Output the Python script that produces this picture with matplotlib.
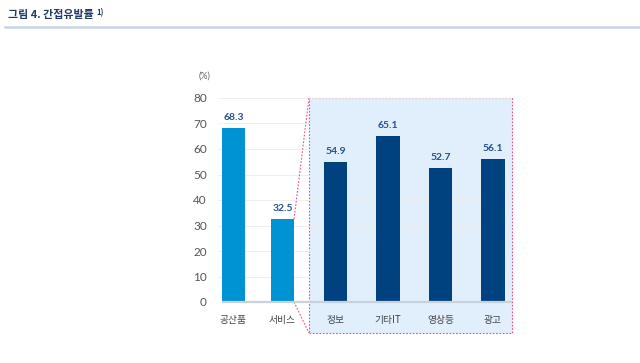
import matplotlib.pyplot as plt
import matplotlib.patches as mpatches
from matplotlib.lines import Line2D

plt.rcParams['font.family'] = ['Lato', 'Noto Sans CJK KR', 'DejaVu Sans']

# ── data ────────────────────────────────────────────────────────────────────
categories = ['공산품', '서비스', '정보', '기타IT', '영상등', '광고']
values     = [68.3, 32.5, 54.9, 65.1, 52.7, 56.1]
yticks     = [0, 10, 20, 30, 40, 50, 60, 70, 80]

# ── layout ──────────────────────────────────────────────────────────────────
pos    = [0, 0.933, 1.943, 2.943, 3.943, 4.943]
colors = ['#0093d3', '#0093d3', '#00427f', '#00427f', '#00427f', '#00427f']
bar_w  = 0.44
kor    = ['Noto Sans CJK KR', 'DejaVu Sans']

fig = plt.figure(figsize=(6.4, 3.63), dpi=100)
fig.patch.set_facecolor('white')

# title + rule
title = fig.text(8/640, 1 - 15/363, '그림 4. 간접유발률', family=kor,
                 fontsize=7.9, fontweight='bold', color='#1f3a68',
                 ha='left', va='center')
fig.canvas.draw()
bb = title.get_window_extent()
fig.text((bb.x1 + 3) / 640, 1 - 12.5/363, '1)', family=kor, fontsize=5.5,
         fontweight='bold', color='#1f3a68', ha='left', va='center')
fig.add_artist(Line2D([5/640, 1], [1 - 27/363, 1 - 27/363],
                      transform=fig.transFigure, color='#c6d4e6', lw=1.8))

ax = fig.add_axes([218/640, 61/363, 294/640, 204/363])
ax.set_xlim(-0.295, 5.305)
ax.set_ylim(0, 80)

# highlighted box (extends below the axis)
x0 = (309 - 233.5) / 52.5
x1 = (512 - 233.5) / 52.5
y0 = -31 / 2.55
ax.add_patch(mpatches.Rectangle((x0, y0), x1 - x0, 80 - y0,
                                facecolor='#e1effc', edgecolor='#e8508a',
                                lw=0.8, ls=(0, (1.5, 1.5)), clip_on=False,
                                zorder=0))

for y in yticks[1:]:
    ax.axhline(y, color='#ececec', lw=0.6, zorder=0.5)

ax.bar(pos, values, width=bar_w, color=colors, zorder=2)
ax.plot([-bar_w/2, x1], [0, 0], color='#c9d1da', lw=1.6, zorder=3,
        clip_on=False, solid_capstyle='butt')

for p, v in zip(pos, values):
    ax.text(p, v + 4, f'{v:.1f}', ha='center', va='center', fontsize=7.5,
            fontweight='bold', color='#23528f')

# connector lines from 서비스 bar to box
sx = pos[1] + bar_w/2
ax.plot([sx, x0], [values[1], 80], color='#e8508a', lw=0.8,
        ls=(0, (1.5, 1.5)), clip_on=False, zorder=1)
ax.plot([sx, x0], [0, y0], color='#e8508a', lw=0.8,
        ls=(0, (1.5, 1.5)), clip_on=False, zorder=1)

for p, c in zip(pos, categories):
    ax.text(p, -7, c, ha='center', va='center', fontsize=7,
            family=kor, color='#444444')

ax.set_xticks([])
ax.set_yticks(yticks)
ax.tick_params(axis='y', length=0, pad=8, labelsize=8.5, labelcolor='#555555')
for spine in ax.spines.values():
    spine.set_visible(False)
ax.patch.set_alpha(0)

ax.text(-0.56, 88.5, '(%)', ha='center', va='center', fontsize=6.5,
        color='#666666')

plt.savefig('out.png', dpi=100, facecolor='white')
